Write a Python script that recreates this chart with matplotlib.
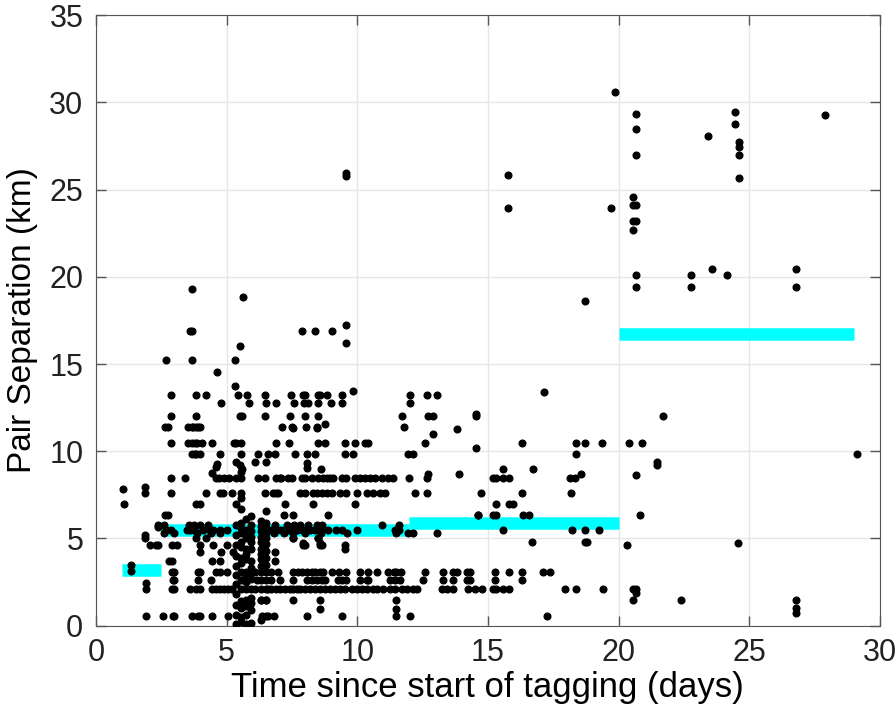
import matplotlib
matplotlib.use("Agg")
import matplotlib.pyplot as plt

# rows of points that share (roughly) the same separation value: x positions (days)
row_055 = [1.91, 2.58, 2.96, 3.0, 3.66, 3.91, 3.98, 4.43, 5.05, 6.35, 6.6, 6.8, 8.06, 9.4, 11.5, 12.02, 17.25]
row_095 = [8.57, 11.5]
row_150 = [6.3, 6.5, 7.55, 8.57, 11.5, 20.57, 22.39, 26.78]
row_210 = [1.91, 2.9, 3.0, 3.6, 3.85, 4.0, 4.43, 4.6, 4.75, 4.9, 5.05, 5.2, 6.1, 6.6, 6.72, 6.91,
           7.05, 7.23, 7.42, 7.55, 7.68, 7.81, 8.0, 8.19, 8.38, 8.57, 8.76, 8.96, 9.15, 9.34, 9.55,
           9.79, 9.98, 10.17, 10.36, 10.61, 10.74, 11.0, 11.25, 11.44, 11.7, 11.89, 12.14, 12.27,
           13.23, 13.42, 13.67, 14.25, 14.5, 14.76, 15.2, 15.33, 15.59, 15.82, 17.95, 18.37, 19.39, 20.57]
row_262 = [2.95, 3.0, 3.9, 4.4, 6.15, 6.7, 7.04, 7.55, 8.06, 8.26, 8.45, 8.64, 8.77, 9.28, 9.4, 9.59,
           10.1, 10.36, 10.42, 11.25, 11.44, 11.63, 12.53, 13.3, 13.67, 14.19, 14.31, 15.27, 16.29]
row_310 = [2.9, 3.0, 3.9, 4.0, 4.6, 4.75, 5.0, 6.1, 6.7, 6.98, 7.55, 7.74, 7.9, 8.06, 8.26, 8.4, 8.57,
           8.7, 9.02, 9.3, 9.59, 10.1, 10.42, 10.74, 11.19, 11.4, 11.5, 11.67, 12.59, 13.27, 13.66,
           13.8, 14.22, 14.31, 15.27, 15.82, 16.29, 17.12, 17.37]
row_372 = [2.8, 2.9, 4.45, 4.75, 6.85]
row_420 = [4.0, 4.8, 5.25, 6.85]
row_465 = [2.07, 2.3, 2.38, 2.9, 3.1, 4.0, 4.5, 5.0, 7.93, 8.0, 8.57, 8.64, 9.55, 20.31]
row_500 = [1.88, 3.85, 4.2, 7.55, 8.5]
row_530 = [2.6, 3.0, 3.88, 4.4, 4.75, 6.8, 7.2, 7.55, 8.0, 8.6, 9.6, 11.5, 11.95, 12.14, 13.04]
row_550 = [2.7, 2.87, 3.5, 3.6, 3.77, 4.1, 4.36, 4.5, 4.75, 5.0, 6.7, 6.9, 7.1, 7.4, 7.55, 7.7, 7.9,
           8.05, 8.2, 8.4, 8.6, 8.9, 9.2, 9.4, 10.0, 11.45, 11.6, 15.59, 18.23, 18.71, 19.25]
row_575 = [2.36, 2.6, 3.55, 3.75, 4.0, 4.3, 6.85, 7.3, 7.6, 7.8, 8.1, 8.45, 8.65, 10.95, 11.6]
row_635 = [2.64, 2.77, 7.2, 7.55, 8.9, 14.63, 15.2, 15.33, 16.33, 16.58, 20.81]
row_695 = [1.08, 3.85, 4.0, 7.23, 8.3, 9.93, 15.31, 15.82, 15.97]
row_760 = [1.88, 2.87, 4.21, 4.75, 4.87, 5.19, 6.47, 6.79, 6.91, 6.98, 7.81, 8.0, 8.32, 8.45, 8.64,
           8.83, 9.02, 9.34, 9.59, 9.98, 10.36, 10.61, 10.87, 11.06, 12.2, 12.66, 14.72, 16.29, 18.17]
row_845 = [2.87, 3.4, 4.6, 4.7, 4.9, 5.1, 6.2, 6.47, 6.9, 7.04, 7.1, 7.36, 7.49, 7.87, 8.0, 8.26,
           8.51, 8.7, 8.83, 8.96, 9.08, 9.4, 9.59, 9.91, 10.1, 10.29, 10.49, 10.68, 10.93, 11.19,
           11.38, 11.98, 12.66, 15.2, 15.33, 15.59, 15.82, 18.14, 18.33]
row_985 = [3.69, 3.8, 3.85, 4.0, 4.75, 6.2, 6.6, 6.85, 7.62, 8.06, 8.38, 9.53, 9.85, 11.95, 12.14, 18.37, 29.11]
row_1050 = [2.87, 3.53, 3.68, 3.8, 3.87, 4.06, 4.45, 5.3, 6.89, 7.4, 8.51, 8.76, 9.53, 9.91, 10.29,
            10.42, 12.6, 16.29, 18.37, 18.71, 19.35, 20.41, 20.88]
row_1140 = [2.64, 2.77, 3.53, 3.66, 3.7, 3.85, 3.9, 4.0, 7.13, 7.5, 8.05, 8.45, 11.79]
row_1200 = [2.87, 3.85, 5.5, 5.6, 6.47, 7.42, 8.0, 8.5, 11.72, 12.72, 12.91, 14.53, 21.71]
row_1275 = [4.78, 5.87, 6.5, 6.89, 7.6, 7.97, 8.1, 8.5, 9.0, 9.4, 12.02]
row_1320 = [2.87, 3.85, 4.21, 5.42, 5.8, 6.47, 7.45, 7.93, 8.0, 8.5, 8.57, 8.85, 9.4, 12.02, 12.68, 13.06]

rows = [(0.55, row_055), (0.95, row_095), (1.5, row_150), (2.1, row_210), (2.62, row_262),
        (3.1, row_310), (3.72, row_372), (4.2, row_420), (4.65, row_465), (5.0, row_500),
        (5.3, row_530), (5.5, row_550), (5.75, row_575), (6.35, row_635), (6.95, row_695),
        (7.6, row_760), (8.45, row_845), (9.85, row_985), (10.5, row_1050), (11.4, row_1140),
        (12.0, row_1200), (12.75, row_1275), (13.2, row_1320)]

# dense columns around day 5.3-6.5: separation values (km)
col_535 = [0.1, 0.6, 1.2, 1.8, 2.4, 2.9, 3.4, 4.0, 4.6, 5.2, 5.8, 7.0, 8.45, 9.4, 10.5]
col_555 = [0.2, 0.5, 1.0, 1.4, 2.1, 2.6, 3.1, 3.6, 3.9, 4.5, 4.8, 5.3, 5.6, 5.9, 6.7, 7.3,
           7.6, 8.45, 8.8, 9.85, 10.5]
col_575 = [0.1, 0.6, 1.1, 1.5, 2.1, 2.5, 2.8, 3.1, 3.8, 4.1, 4.4, 5.0, 5.3, 5.5, 6.1]
col_595 = [0.15, 0.9, 1.3, 1.6, 2.1, 2.7, 3.0, 3.3, 3.7, 4.4, 4.8, 5.1, 5.4, 5.8, 6.3]
col_630 = [0.3, 1.5, 2.1, 2.6, 3.1, 3.4, 3.8, 4.1, 4.4, 4.8, 5.1, 5.4, 5.7, 6.0]
col_650 = [0.55, 1.5, 2.1, 2.6, 3.1, 3.5, 3.9, 4.3, 4.7, 5.0, 5.3, 5.6, 5.9, 6.6]

cols = [(5.35, col_535), (5.55, col_555), (5.75, col_575), (5.95, col_595), (6.3, col_630), (6.5, col_650)]

# scattered points
loose_x = [1.04, 1.88, 1.34, 1.34, 1.91, 2.36, 4.62, 4.6, 4.43, 5.5, 5.6, 6.1, 6.5, 8.06, 8.06, 8.63,
           14.54, 14.54, 15.59, 16.71, 18.56, 21.46, 21.46, 20.65, 24.58, 20.65, 26.78, 26.78,
           16.68, 18.71, 18.8, 8.75, 7.55, 8.45, 12.89, 13.8, 12.72, 13.9, 7.55, 8.5, 7.93, 8.57,
           9.55, 1.88, 14.63, 20.65]
loose_y = [7.84, 7.96, 3.47, 3.13, 2.46, 5.65, 9.24, 9.08, 8.76, 9.2, 9.0, 9.4, 9.4, 9.33, 9.04, 9.0,
           12.16, 10.19, 8.99, 8.99, 8.67, 9.39, 9.2, 8.66, 4.75, 1.85, 1.0, 0.74,
           4.81, 4.81, 4.81, 11.56, 11.33, 11.33, 10.96, 11.3, 8.7, 8.7, 5.03, 5.03, 4.75, 4.75,
           4.4, 5.19, 6.33, 2.1]

# isolated points above 13.5 km
top_x = [3.69, 5.64, 3.6, 3.69, 5.51, 2.68, 3.66, 5.32, 4.62, 5.32, 9.85, 17.14, 7.87, 8.38, 9.02,
         9.59, 9.59, 9.59, 9.59, 15.78, 15.78, 19.73, 19.86, 20.65, 20.65, 20.65, 20.57, 20.57,
         20.65, 20.57, 20.65, 20.57, 20.65, 20.65, 22.76, 22.76, 23.59, 24.14, 26.78, 26.78,
         23.43, 24.44, 24.44, 24.62, 24.62, 24.62, 24.62, 27.9, 18.72]
top_y = [19.32, 18.82, 16.87, 16.87, 16.03, 15.21, 15.21, 15.21, 14.54, 13.72, 13.44, 13.4, 16.91,
         16.91, 16.91, 17.22, 16.23, 25.75, 25.95, 25.85, 23.97, 23.97, 30.58, 29.32, 28.5, 26.97,
         24.6, 24.09, 24.09, 23.21, 23.21, 22.66, 20.12, 19.39, 20.12, 19.39, 20.46, 20.12, 20.46,
         19.39, 28.06, 29.47, 28.77, 27.74, 27.45, 27.01, 25.69, 29.26, 18.6]

# median separation per time bin
bin_start = [1.0, 2.5, 12.0, 20.0]
bin_end = [2.5, 12.0, 20.0, 29.0]
bin_median = [3.2, 5.48, 5.87, 16.73]

xs, ys = [], []
for level, xlist in rows:
    xs += xlist
    ys += [level] * len(xlist)
for xpos, ylist in cols:
    xs += [xpos] * len(ylist)
    ys += ylist
xs += loose_x + top_x
ys += loose_y + top_y

plt.rcParams["font.family"] = ["Liberation Sans", "DejaVu Sans"]
plt.rcParams["text.color"] = "#222222"
plt.rcParams["xtick.labelcolor"] = "#222222"
plt.rcParams["ytick.labelcolor"] = "#222222"
fig = plt.figure(figsize=(8.96, 7.2), dpi=100)
ax = fig.add_axes([0.107, 0.131, 0.875, 0.848])

for x0, x1, m in zip(bin_start, bin_end, bin_median):
    ax.plot([x0, x1], [m, m], color="#00ffff", linewidth=9, solid_capstyle="butt", zorder=2)
ax.plot(xs, ys, "o", color="black", markersize=4.8, linestyle="none", zorder=3)

ax.set_xlim(0, 30)
ax.set_ylim(0, 35)
ax.set_xticks(range(0, 31, 5))
ax.set_yticks(range(0, 36, 5))
ax.grid(True, color="#e6e6e6", linewidth=1)
ax.set_axisbelow(True)
ax.tick_params(direction="in", length=7, width=1, color="#555555", labelsize=22,
               top=True, right=True, pad=9)
for s in ax.spines.values():
    s.set_color("#555555")
ax.set_xlabel("Time since start of tagging (days)", fontsize=25, labelpad=2)
ax.set_ylabel("Pair Separation (km)", fontsize=24, labelpad=8)

fig.savefig("out.png", dpi=100)
